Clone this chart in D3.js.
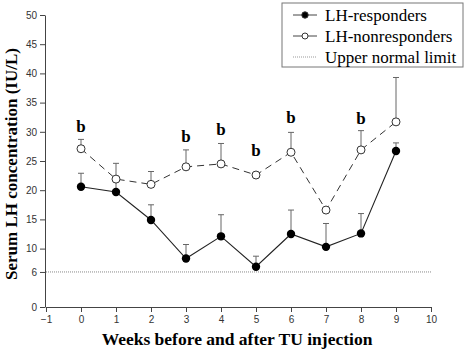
<!DOCTYPE html>
<html>
<head>
<meta charset="utf-8">
<script src="https://cdn.jsdelivr.net/npm/d3@7"></script>
<style>
  body { margin: 0; background: #fff; }
  svg { display: block; }
  .tick text { font-family: 'Liberation Sans', Arial, sans-serif; font-size: 10px; fill: #333; }
</style>
</head>
<body>
<div id="chart"></div>
<script>
// weeks before / after TU injection
let weeks = [0, 1, 2, 3, 4, 5, 6, 7, 8, 9];

// LH-responders: mean and mean + SD
let respMean = [20.6, 19.7, 14.9, 8.3, 12.1, 6.9, 12.5, 10.3, 12.6, 26.7];
let respUpper = [22.9, 21.5, 17.5, 10.7, 15.8, 8.7, 16.6, 14.3, 16.0, 28.1];

// LH-nonresponders: mean and mean + SD (null = no bar visible)
let nonMean = [27.1, 21.9, 21.0, 24.0, 24.5, 22.6, 26.5, 16.6, 26.9, 31.7];
let nonUpper = [28.7, 24.6, 23.2, 26.9, 28.0, null, 29.9, null, 30.2, 39.3];

let upperNormal = 6;

// significance marks "b"
let bWeeks = [0, 3, 4, 5, 6, 8];
let bLevels = [31.0, 29.2, 30.5, 26.9, 32.5, 32.4];

let yTicks = [0, 6, 10, 15, 20, 25, 30, 35, 40, 45, 50];
let xTicks = [-1, 0, 1, 2, 3, 4, 5, 6, 7, 8, 9, 10];

let legendLabels = ['LH-responders', 'LH-nonresponders', 'Upper normal limit'];

let width = 472;
let height = 354;

let svg = d3.select('#chart').append('svg')
    .attr('width', width)
    .attr('height', height);

let xScale = d3.scaleLinear().domain([-1, 10]).range([46, 431]);
let yScale = d3.scaleLinear().domain([0, 50]).range([307, 15]);

// axes
let yAxis = d3.axisLeft(yScale).tickValues(yTicks).tickSize(5).tickPadding(3).tickSizeOuter(0);
let xAxis = d3.axisBottom(xScale).tickValues(xTicks).tickSize(5).tickPadding(4).tickSizeOuter(0);

let yAxisGroup = svg.append('g')
    .attr('transform', `translate(${45},0)`)
    .call(yAxis);
let xAxisGroup = svg.append('g')
    .attr('transform', `translate(0,${307})`)
    .call(xAxis);
[yAxisGroup, xAxisGroup].forEach(g => {
    g.selectAll('path, line').attr('stroke', '#444').attr('stroke-width', 1);
});

// upper normal limit
svg.append('line')
    .attr('x1', xScale(-1)).attr('x2', xScale(10))
    .attr('y1', yScale(upperNormal)).attr('y2', yScale(upperNormal))
    .attr('stroke', '#888')
    .attr('stroke-width', 1)
    .attr('stroke-dasharray', '1,1');

function drawErrors(means, uppers) {
    let data = weeks.map((w, i) => ({ w: w, m: means[i], u: uppers[i] }))
        .filter(d => d.u != null);
    let g = svg.append('g').attr('stroke', '#666').attr('stroke-width', 1);
    g.selectAll('.stem').data(data).enter().append('line')
        .attr('x1', d => xScale(d.w)).attr('x2', d => xScale(d.w))
        .attr('y1', d => yScale(d.m)).attr('y2', d => yScale(d.u));
    g.selectAll('.cap').data(data).enter().append('line')
        .attr('x1', d => xScale(d.w) - 3).attr('x2', d => xScale(d.w) + 3)
        .attr('y1', d => yScale(d.u)).attr('y2', d => yScale(d.u));
}

drawErrors(respMean, respUpper);
drawErrors(nonMean, nonUpper);

let line = d3.line()
    .x((d, i) => xScale(weeks[i]))
    .y(d => yScale(d));

svg.append('path')
    .datum(nonMean)
    .attr('d', line)
    .attr('fill', 'none')
    .attr('stroke', '#333')
    .attr('stroke-width', 1)
    .attr('stroke-dasharray', '7,5');

svg.append('path')
    .datum(respMean)
    .attr('d', line)
    .attr('fill', 'none')
    .attr('stroke', '#222')
    .attr('stroke-width', 1.1);

svg.selectAll('.non-pt').data(nonMean).enter().append('circle')
    .attr('cx', (d, i) => xScale(weeks[i]))
    .attr('cy', d => yScale(d))
    .attr('r', 4)
    .attr('fill', '#fff')
    .attr('stroke', '#333')
    .attr('stroke-width', 1);

svg.selectAll('.resp-pt').data(respMean).enter().append('circle')
    .attr('cx', (d, i) => xScale(weeks[i]))
    .attr('cy', d => yScale(d))
    .attr('r', 4.2)
    .attr('fill', '#000');

// "b" marks
svg.selectAll('.bmark').data(bWeeks).enter().append('text')
    .attr('x', d => xScale(d))
    .attr('y', (d, i) => yScale(bLevels[i]))
    .attr('dy', '0.35em')
    .attr('text-anchor', 'middle')
    .style('font-family', "'Liberation Serif', 'Times New Roman', serif")
    .style('font-weight', 'bold')
    .style('font-size', '17px')
    .text('b');

// axis titles
svg.append('text')
    .attr('transform', `translate(${17},${164}) rotate(-90)`)
    .attr('text-anchor', 'middle')
    .style('font-family', "'Liberation Serif', 'Times New Roman', serif")
    .style('font-weight', 'bold')
    .style('font-size', '17px')
    .text('Serum LH concentration (IU/L)');

svg.append('text')
    .attr('x', 237)
    .attr('y', 345)
    .attr('text-anchor', 'middle')
    .style('font-family', "'Liberation Serif', 'Times New Roman', serif")
    .style('font-weight', 'bold')
    .style('font-size', '17.5px')
    .text('Weeks before and after TU injection');

// legend
let legend = svg.append('g').attr('transform', `translate(${282},${3})`);
legend.append('rect')
    .attr('width', 181).attr('height', 64)
    .attr('fill', '#fff')
    .attr('stroke', '#777')
    .attr('stroke-width', 1);

let rows = legend.selectAll('.row').data(legendLabels).enter().append('g')
    .attr('transform', (d, i) => `translate(0,${12 + i * 21})`);
rows.append('line')
    .attr('x1', 11).attr('x2', 35)
    .attr('stroke', (d, i) => i == 2 ? '#999' : '#444')
    .attr('stroke-width', 1)
    .attr('stroke-dasharray', (d, i) => i == 2 ? '1,1' : null);
rows.filter((d, i) => i < 2).append('circle')
    .attr('cx', 23).attr('r', (d, i) => i == 0 ? 3.2 : 3)
    .attr('fill', (d, i) => i == 0 ? '#000' : '#fff')
    .attr('stroke', '#333');
rows.append('text')
    .attr('x', 43)
    .attr('dy', '0.35em')
    .style('font-family', "'Liberation Serif', 'Times New Roman', serif")
    .style('font-size', '17px')
    .text(d => d);
</script>
</body>
</html>
